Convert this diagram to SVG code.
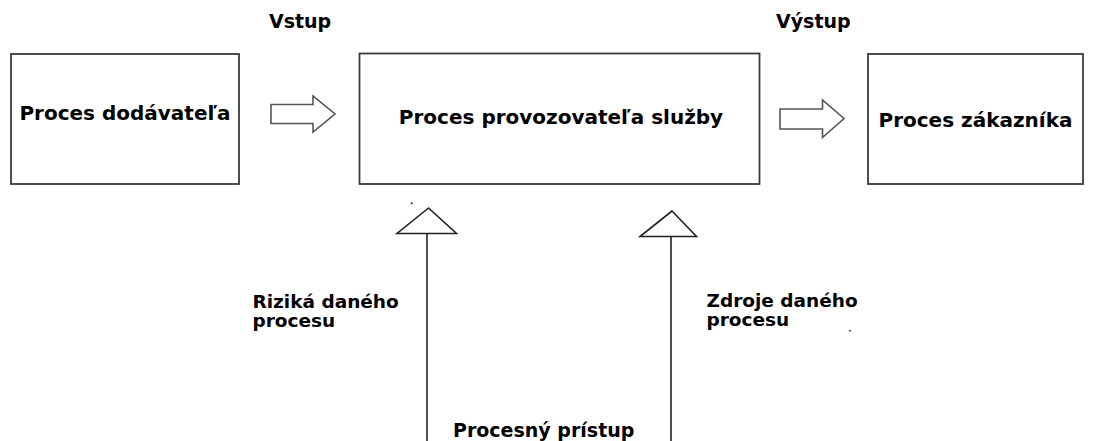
<svg xmlns="http://www.w3.org/2000/svg" width="1095" height="441" viewBox="0 0 1095 441">
  <style>
    .box { fill: #ffffff; stroke: #3a3a3a; stroke-width: 1.8; }
    .flow { fill: #ffffff; stroke: #555555; stroke-width: 1.6; stroke-linejoin: miter; }
    .tri { fill: #ffffff; stroke: #222222; stroke-width: 1.6; }
    .stem { stroke: #222222; stroke-width: 1.6; fill: none; }
    .t { font-family: "DejaVu Sans", "Liberation Sans", sans-serif; font-weight: bold; fill: #000000; }
    .big { font-size: 20px; }
    .lab { font-size: 19px; }
    .side { font-size: 18.5px; }
    .dot { fill: #222222; }
  </style>
  <rect width="1095" height="441" fill="#ffffff"/>

  <!-- section headings -->
  <text class="t lab" x="269" y="28">Vstup</text>
  <text class="t lab" x="776" y="28">Výstup</text>

  <!-- process boxes -->
  <g id="supplier">
    <rect class="box" x="11" y="54" width="228" height="130"/>
    <text class="t big" x="125" y="120" text-anchor="middle">Proces dodávateľa</text>
  </g>
  <g id="provider">
    <rect class="box" x="359.5" y="53.5" width="400" height="130.5"/>
    <text class="t big" x="561" y="124" text-anchor="middle">Proces provozovateľa služby</text>
  </g>
  <g id="customer">
    <rect class="box" x="868" y="54" width="215" height="130"/>
    <text class="t big" x="975.5" y="127" text-anchor="middle">Proces zákazníka</text>
  </g>

  <!-- connectors -->
  <g id="connectors">
    <!-- input / output block arrows -->
    <polygon class="flow" points="271,104.5 313,104.5 313,96 335,114 313,132 313,123.5 271,123.5"/>
    <polygon class="flow" points="780,109 822.5,109 822.5,100 844,118.5 822.5,137.5 822.5,129 780,129"/>

    <!-- risks feed -->
    <line class="stem" x1="427" y1="233.5" x2="427" y2="441"/>
    <polygon class="tri" points="428.5,208 397,233.5 456.5,233.5"/>
    <!-- resources feed -->
    <line class="stem" x1="671" y1="236.5" x2="671" y2="441"/>
    <polygon class="tri" points="672,211 640,236.5 696.5,236.5"/>
  </g>

  <!-- stray marks -->
  <circle class="dot" cx="411.7" cy="203.3" r="1"/>
  <circle class="dot" cx="850" cy="330.7" r="0.9"/>

  <!-- side labels -->
  <g id="risks">
    <text class="t side" x="252.5" y="308">Riziká daného</text>
    <text class="t side" x="252.5" y="327">procesu</text>
  </g>
  <g id="resources">
    <text class="t side" x="706.5" y="307">Zdroje daného</text>
    <text class="t side" x="706.5" y="326">procesu</text>
  </g>
  <g id="approach">
    <text class="t lab" x="453" y="437">Procesný prístup</text>
  </g>
</svg>
